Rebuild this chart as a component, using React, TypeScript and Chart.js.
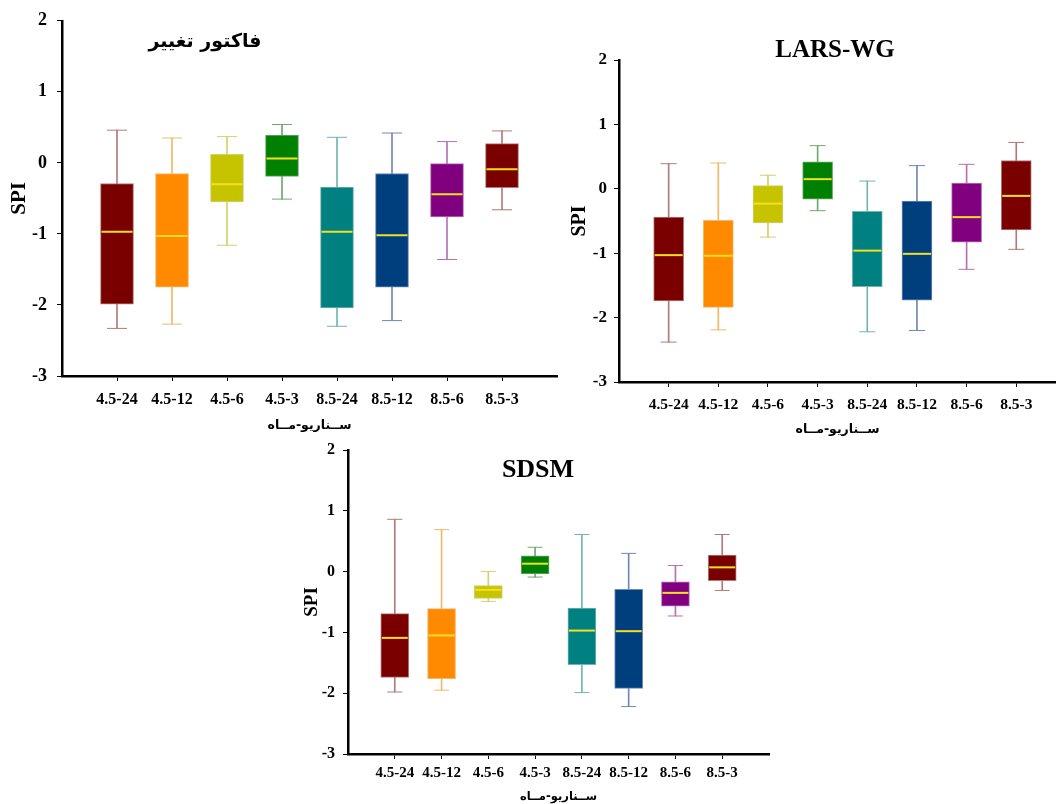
import React, { useEffect, useRef } from 'react';
import { Chart, registerables } from 'chart.js';

Chart.register(...registerables);

// ---------- data ----------
const categories = ['4.5-24', '4.5-12', '4.5-6', '4.5-3', '8.5-24', '8.5-12', '8.5-6', '8.5-3'];
const yTicks = [-3, -2, -1, 0, 1, 2];

const boxColors = ['#7a0000', '#ff8a00', '#c6c400', '#008000', '#008080', '#003f7e', '#800080', '#7a0000'];
const whiskerColors = ['#b27a7a', '#f2b86a', '#d2d070', '#6fa86f', '#72b4b4', '#7088b2', '#b472b4', '#b27a7a'];
const medianColor = '#f4e020';

// Change factor (فاکتور تغییر)
const cfMin = [-2.33, -2.27, -1.16, -0.51, -2.3, -2.22, -1.36, -0.66];
const cfQ1 = [-1.99, -1.75, -0.55, -0.19, -2.04, -1.75, -0.76, -0.35];
const cfMed = [-0.97, -1.03, -0.3, 0.06, -0.97, -1.02, -0.44, -0.09];
const cfQ3 = [-0.29, -0.15, 0.12, 0.39, -0.34, -0.15, -0.01, 0.27];
const cfMax = [0.46, 0.35, 0.37, 0.54, 0.36, 0.42, 0.3, 0.45];

// LARS-WG
const lwMin = [-2.38, -2.19, -0.75, -0.34, -2.22, -2.2, -1.25, -0.94];
const lwQ1 = [-1.74, -1.84, -0.53, -0.16, -1.52, -1.73, -0.83, -0.64];
const lwMed = [-1.03, -1.04, -0.23, 0.15, -0.96, -1.01, -0.44, -0.11];
const lwQ3 = [-0.44, -0.49, 0.05, 0.42, -0.35, -0.19, 0.09, 0.44];
const lwMax = [0.39, 0.4, 0.21, 0.67, 0.12, 0.36, 0.38, 0.72];

// SDSM
const sdMin = [-1.98, -1.95, -0.49, -0.09, -1.99, -2.22, -0.73, -0.31];
const sdQ1 = [-1.74, -1.76, -0.44, -0.04, -1.53, -1.92, -0.57, -0.15];
const sdMed = [-1.09, -1.05, -0.3, 0.13, -0.97, -0.98, -0.35, 0.07];
const sdQ3 = [-0.69, -0.61, -0.23, 0.26, -0.6, -0.29, -0.17, 0.27];
const sdMax = [0.86, 0.69, 0.0, 0.4, 0.61, 0.3, 0.1, 0.61];

const xTitleText = 'ســناریو-مــاه';
const yTitleText = 'SPI';

const SERIF = '"Liberation Serif", "Times New Roman", serif';
const ARABIC = '"DejaVu Sans", "Noto Sans", sans-serif';

type Panel = {
  title: string;
  titleFont: string;
  titleX: number;
  titleY: number;
  left: number;
  top: number;
  width: number;
  height: number;
  padTop: number;
  padRight: number;
  yAxisWidth: number;
  xAxisHeight: number;
  xMax: number;
  boxWidth: number;
  capWidth: number;
  tickSize: number;
  yTickSize: number;
  xTickPad: number;
  yTickPad: number;
  spiSize: number;
  spiPad: number;
  xTitleSize: number;
  xTitlePad: number;
  mins: number[];
  q1s: number[];
  meds: number[];
  q3s: number[];
  maxs: number[];
};

const panels: Panel[] = [
  {
    title: 'فاکتور تغییر',
    titleFont: `bold 19px ${ARABIC}`,
    titleX: 205,
    titleY: 42,
    left: 0,
    top: 0,
    width: 560,
    height: 436,
    padTop: 19,
    padRight: 3,
    yAxisWidth: 62,
    xAxisHeight: 60,
    xMax: 9,
    boxWidth: 33,
    capWidth: 20,
    tickSize: 16,
    yTickSize: 18,
    xTickPad: 9,
    yTickPad: 10,
    spiSize: 21,
    spiPad: 7,
    xTitleSize: 12.5,
    xTitlePad: 3,
    mins: cfMin,
    q1s: cfQ1,
    meds: cfMed,
    q3s: cfQ3,
    maxs: cfMax,
  },
  {
    title: 'LARS-WG',
    titleFont: `bold 25px ${SERIF}`,
    titleX: 275,
    titleY: 21,
    left: 560,
    top: 30,
    width: 496,
    height: 410,
    padTop: 30,
    padRight: 0,
    yAxisWidth: 59,
    xAxisHeight: 58,
    xMax: 8.8,
    boxWidth: 30,
    capWidth: 16,
    tickSize: 15.5,
    yTickSize: 17,
    xTickPad: 8.5,
    yTickPad: 7,
    spiSize: 20,
    spiPad: 8,
    xTitleSize: 12.5,
    xTitlePad: 3,
    mins: lwMin,
    q1s: lwQ1,
    meds: lwMed,
    q3s: lwQ3,
    maxs: lwMax,
  },
  {
    title: 'SDSM',
    titleFont: `bold 26px ${SERIF}`,
    titleX: 248,
    titleY: 40,
    left: 290,
    top: 430,
    width: 480,
    height: 374,
    padTop: 20,
    padRight: 1,
    yAxisWidth: 58,
    xAxisHeight: 50,
    xMax: 9,
    boxWidth: 28,
    capWidth: 15,
    tickSize: 15,
    yTickSize: 16,
    xTickPad: 5,
    yTickPad: 8,
    spiSize: 19,
    spiPad: 11,
    xTitleSize: 11.5,
    xTitlePad: 0,
    mins: sdMin,
    q1s: sdQ1,
    meds: sdMed,
    q3s: sdQ3,
    maxs: sdMax,
  },
];

const panelTitlePlugin = {
  id: 'panelTitle',
  afterDraw(chart: any, _args: any, opts: any) {
    if (!opts || !opts.text) return;
    const ctx = chart.ctx;
    ctx.save();
    ctx.font = opts.font;
    ctx.fillStyle = '#000';
    ctx.textAlign = 'center';
    ctx.textBaseline = 'middle';
    ctx.fillText(opts.text, opts.x, opts.y);
    ctx.restore();
  },
};

function BoxPanel({ p }: { p: Panel }) {
  const ref = useRef<HTMLCanvasElement | null>(null);

  useEffect(() => {
    if (!ref.current) return;
    const xs = categories.map((_, i) => i + 1);
    const grid = {
      display: true,
      drawOnChartArea: false,
      drawTicks: true,
      offset: false,
      tickLength: 5,
      tickColor: '#000',
      lineWidth: 1,
    };
    const border = { display: true, color: '#000', width: 2.5 };

    const chart = new Chart(ref.current, {
      type: 'bar',
      data: {
        datasets: [
          {
            type: 'bar',
            label: 'whisker',
            data: xs.map((x, i) => ({ x, y: [p.mins[i], p.maxs[i]] })) as any,
            backgroundColor: whiskerColors,
            borderWidth: 0,
            barThickness: 1,
            grouped: false,
            order: 4,
          },
          {
            type: 'bar',
            label: 'box',
            data: xs.map((x, i) => ({ x, y: [p.q1s[i], p.q3s[i]] })) as any,
            backgroundColor: boxColors,
            borderColor: whiskerColors,
            borderWidth: 1,
            borderSkipped: false,
            barThickness: p.boxWidth,
            grouped: false,
            order: 3,
          },
          {
            type: 'line',
            label: 'caps',
            data: [
              ...xs.map((x, i) => ({ x, y: p.maxs[i] })),
              ...xs.map((x, i) => ({ x, y: p.mins[i] })),
            ] as any,
            showLine: false,
            pointStyle: 'line',
            pointRadius: p.capWidth / 2,
            pointHoverRadius: p.capWidth / 2,
            pointBorderWidth: 1,
            pointBorderColor: [...whiskerColors, ...whiskerColors],
            pointBackgroundColor: [...whiskerColors, ...whiskerColors],
            order: 2,
          },
          {
            type: 'line',
            label: 'median',
            data: xs.map((x, i) => ({ x, y: p.meds[i] })) as any,
            showLine: false,
            pointStyle: 'line',
            pointRadius: p.boxWidth / 2 - 1,
            pointHoverRadius: p.boxWidth / 2 - 1,
            pointBorderWidth: 2,
            pointBorderColor: medianColor,
            pointBackgroundColor: medianColor,
            order: 1,
          },
        ],
      },
      options: {
        responsive: false,
        animation: false,
        events: [],
        layout: {
          autoPadding: false,
          padding: { top: p.padTop, right: p.padRight, left: 0, bottom: 0 },
        },
        plugins: {
          legend: { display: false },
          tooltip: { enabled: false },
          panelTitle: { text: p.title, font: p.titleFont, x: p.titleX, y: p.titleY },
        } as any,
        scales: {
          x: {
            type: 'linear',
            min: 0,
            max: p.xMax,
            offset: false,
            afterBuildTicks: (s: any) => {
              s.ticks = xs.map((v) => ({ value: v }));
            },
            afterFit: (s: any) => {
              s.height = p.xAxisHeight;
            },
            ticks: {
              callback: (v: any) => categories[Math.round(Number(v)) - 1] ?? '',
              font: { family: SERIF, size: p.tickSize, weight: 'bold' },
              color: '#000',
              padding: p.xTickPad,
              maxRotation: 0,
              minRotation: 0,
              autoSkip: false,
            },
            grid,
            border,
            title: {
              display: true,
              text: xTitleText,
              font: { family: ARABIC, size: p.xTitleSize, weight: 'bold' },
              color: '#000',
              padding: { top: 0, bottom: p.xTitlePad },
            },
          } as any,
          y: {
            type: 'linear',
            min: -3,
            max: 2,
            afterBuildTicks: (s: any) => {
              s.ticks = yTicks.map((v) => ({ value: v }));
            },
            afterFit: (s: any) => {
              s.width = p.yAxisWidth;
            },
            ticks: {
              font: { family: SERIF, size: p.yTickSize, weight: 'bold' },
              color: '#000',
              padding: p.yTickPad,
            },
            grid,
            border,
            title: {
              display: true,
              text: yTitleText,
              font: { family: SERIF, size: p.spiSize, weight: 'bold' },
              color: '#000',
              padding: { top: p.spiPad, bottom: 0 },
            },
          } as any,
        },
      },
      plugins: [panelTitlePlugin],
    });
    return () => chart.destroy();
  }, [p]);

  return (
    <canvas
      ref={ref}
      width={p.width}
      height={p.height}
      style={{ position: 'absolute', left: p.left, top: p.top, width: p.width, height: p.height }}
    />
  );
}

export default function App() {
  return (
    <div
      style={{
        position: 'absolute',
        left: 0,
        top: 0,
        width: 1056,
        height: 804,
        overflow: 'hidden',
        background: '#fff',
      }}
    >
      {panels.map((p, i) => (
        <BoxPanel key={i} p={p} />
      ))}
    </div>
  );
}
